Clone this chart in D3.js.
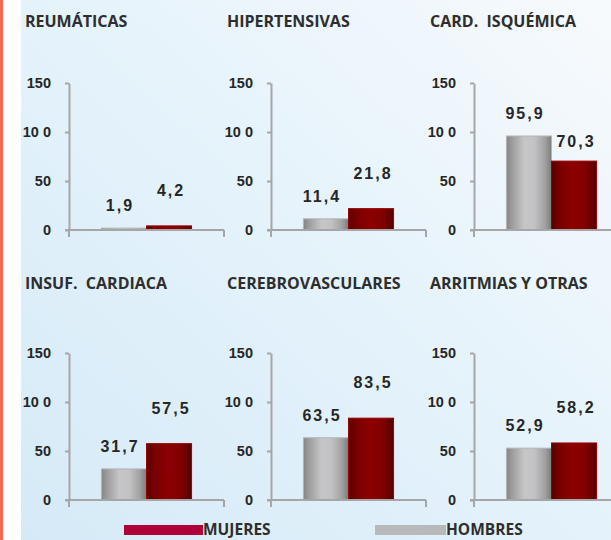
<!DOCTYPE html>
<html><head><meta charset="utf-8">
<script src="https://cdn.jsdelivr.net/npm/d3@7"></script>
<style>
html,body{margin:0;padding:0;background:#fff;}
svg{display:block;}
text{font-family:"Liberation Sans",Arial,sans-serif;}
.title,.leg{font-family:"Open Sans","DejaVu Sans",sans-serif;font-weight:700;fill:#2e2e2e;white-space:pre;}
</style></head>
<body>
<svg id="c" width="611" height="540"></svg>
<script>
// ---- data ----
const panels = ["REUMÁTICAS","HIPERTENSIVAS","CARD.  ISQUÉMICA","INSUF.  CARDIACA","CEREBROVASCULARES","ARRITMIAS Y OTRAS"];
const series = ["HOMBRES","MUJERES"];
const hombres = [1.9, 11.4, 95.9, 31.7, 63.5, 52.9];
const mujeres = [4.2, 21.8, 70.3, 57.5, 83.5, 58.2];
const tickValues = [0, 50, 100, 150];
const tickLabels = ["0", "50", "10 0", "150"];
const legendOrder = ["MUJERES","HOMBRES"];

// ---- layout ----
const W = 611, H = 540;
const svg = d3.select("#c");
const defs = svg.append("defs");

const bg = defs.append("linearGradient").attr("id","bg").attr("x1","0").attr("y1","1").attr("x2","1").attr("y2","0");
bg.append("stop").attr("offset","0%").attr("stop-color","#d5eaf7");
bg.append("stop").attr("offset","55%").attr("stop-color","#e6f3fb");
bg.append("stop").attr("offset","100%").attr("stop-color","#f7fafd");

function grad(id, stops){
  const g = defs.append("linearGradient").attr("id",id).attr("x1","0").attr("x2","1").attr("y1","0").attr("y2","0");
  stops.forEach(s=>g.append("stop").attr("offset",s[0]).attr("stop-color",s[1]));
}
grad("gGray",[["0%","#858585"],["12%","#9c9c9c"],["40%","#c6c6c8"],["62%","#c2c2c4"],["85%","#a2a2a2"],["100%","#7c7c7c"]]);
grad("gRed",[["0%","#560000"],["15%","#760000"],["45%","#8c0000"],["70%","#860000"],["90%","#6a0000"],["100%","#4e0000"]]);

svg.append("rect").attr("width",W).attr("height",H).attr("fill","#ffffff");
svg.append("rect").attr("x",21).attr("width",W-21).attr("height",H).attr("fill","url(#bg)");
svg.append("rect").attr("x",0).attr("width",3).attr("height",H).attr("fill","#f26a50");

const colX = [69, 271, 474];        // y-axis x position per column
const titleX = [25, 227, 430];
const rowY0 = [230, 500];           // baseline of value 0 per row
const plotH = 147;
const titleY = [27, 289];
const plotW = 155;

panels.forEach((name, i) => {
  const col = i % 3, row = Math.floor(i / 3);
  const ax = colX[col], y0 = rowY0[row];
  const y = d3.scaleLinear().domain([0,150]).range([y0, y0 - plotH]);
  const x = d3.scaleBand().domain(series).range([ax, ax + plotW]).paddingInner(0).paddingOuter(0.72);
  const g = svg.append("g");

  g.append("text").attr("class","title").attr("x",titleX[col]).attr("y",titleY[row])
    .attr("font-size",16).text(name);

  // y axis
  const yAxis = d3.axisLeft(y).tickValues(tickValues).tickSizeInner(4).tickSizeOuter(0)
     .tickFormat((d,k)=>tickLabels[k]);
  const ag = g.append("g").attr("transform",`translate(${ax},0)`).call(yAxis);
  ag.select(".domain").attr("stroke","#a6a6a6").attr("stroke-width",2);
  ag.selectAll(".tick line").attr("stroke","#a6a6a6").attr("stroke-width",2);
  ag.selectAll(".tick text").attr("x",-18).attr("fill","#262626")
    .attr("font-size",14.5).attr("font-weight","bold").attr("font-family","'Liberation Sans',Arial,sans-serif");
  g.append("line").attr("x1",ax).attr("x2",ax).attr("y1",y0).attr("y2",y0+7)
    .attr("stroke","#a6a6a6").attr("stroke-width",2);

  // bars
  const vals = [hombres[i], mujeres[i]];
  g.selectAll("rect.bar").data(series).enter().append("rect").attr("class","bar")
    .attr("x", d=>x(d)).attr("width", x.bandwidth())
    .attr("y", (d,k)=>y(vals[k])).attr("height",(d,k)=>y(0)-y(vals[k]))
    .attr("fill",(d,k)=>k===0?"url(#gGray)":"url(#gRed)")
    .attr("stroke",(d,k)=>k===0?"#b4b4b6":"#9a0000").attr("stroke-width",1);

  // x axis
  const xEnd = col===2 ? W : ax + plotW;
  g.append("line").attr("x1",ax-4).attr("x2",xEnd).attr("y1",y0).attr("y2",y0)
    .attr("stroke","#a6a6a6").attr("stroke-width",2);
  if(col<2) g.append("line").attr("x1",xEnd).attr("x2",xEnd).attr("y1",y0).attr("y2",y0+7)
    .attr("stroke","#a6a6a6").attr("stroke-width",2);

  // value labels
  const redBelow = vals[1] < vals[0];
  g.selectAll("text.val").data(series).enter().append("text").attr("class","val")
    .attr("x",(d,k)=>x(d)+x.bandwidth()/2 + (k===0?-4:2))
    .attr("y",(d,k)=>y(vals[k]) - (k===0?17:(redBelow?14:30)))
    .attr("text-anchor","middle").attr("font-size",16).attr("font-weight","bold")
    .attr("letter-spacing",2).attr("fill","#262626")
    .text((d,k)=>String(vals[k]).replace(".",","));
});

// legend
const legColor = {MUJERES:"#b0003a", HOMBRES:"#b9b9bc"};
const legX = [124, 375], legW = [79, 71];
legendOrder.forEach((s,k)=>{
  svg.append("rect").attr("x",legX[k]).attr("y",525).attr("width",legW[k]).attr("height",10).attr("fill",legColor[s]);
  svg.append("text").attr("class","leg").attr("x",legX[k]+legW[k]).attr("y",535).attr("font-size",15.5).text(s);
});
</script>
</body></html>
